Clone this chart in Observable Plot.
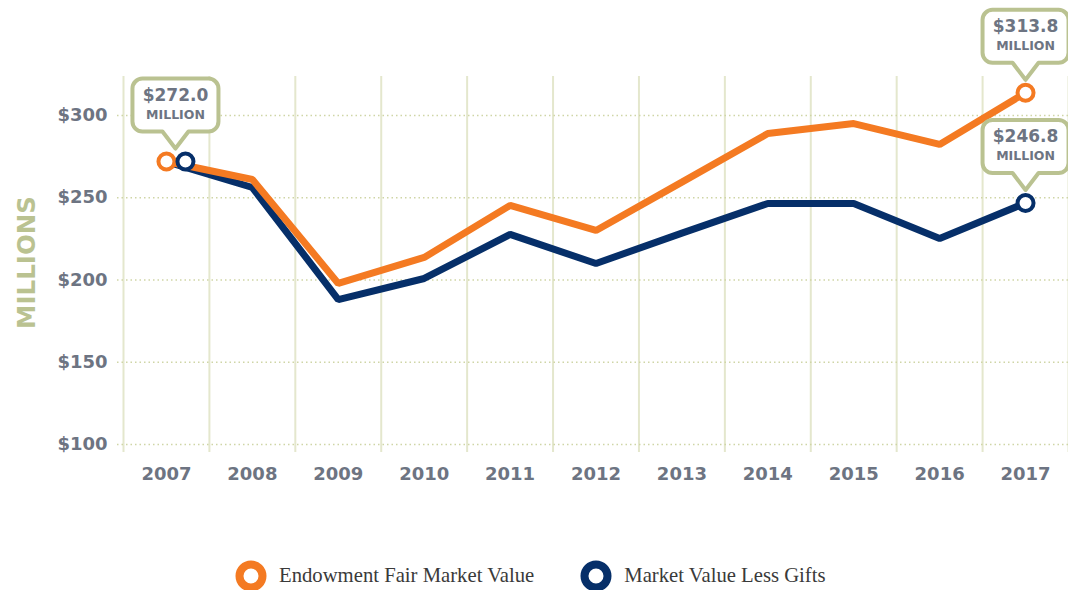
<!DOCTYPE html>
<html>
<head>
<meta charset="utf-8">
<script src="https://cdn.jsdelivr.net/npm/d3@7"></script>
<script src="https://cdn.jsdelivr.net/npm/@observablehq/plot@0.6"></script>
<style>
  html, body { margin: 0; padding: 0; background: #fff; }
  #chart { width: 1068px; }
  .legend { display: flex; align-items: center; padding-top: 11px; padding-left: 235px; height: 40px; box-sizing: border-box;
            font-family: "Liberation Serif", serif; font-size: 20.7px; color: #3a3a3a; }
  .legend .item { display: flex; align-items: center; margin-right: 46px; }
  .legend svg { margin-right: 12px; }
</style>
</head>
<body>
<div id="chart"></div>
<script>
// ---- data ----
const years = [2007, 2008, 2009, 2010, 2011, 2012, 2013, 2014, 2015, 2016, 2017];
const fairMarketValue = [272.0, 261.1, 197.9, 213.7, 245.3, 230.1, 259.5, 289.0, 295.1, 282.4, 313.8];
const lessGifts = [272.0, 256.2, 188.1, 200.9, 227.7, 210.0, 228.5, 246.5, 246.5, 225.2, 246.8];
const yTicks = [100, 150, 200, 250, 300];
const seriesNames = ["Endowment Fair Market Value", "Market Value Less Gifts"];
const calloutYears = [2007, 2017, 2017];
const calloutValues = [272.0, 313.8, 246.8];
const calloutUnit = "MILLION";
const yAxisTitle = "MILLIONS";

// ---- styles ----
const ORANGE = "#f47a22";
const NAVY = "#062f69";
const OLIVE = "#bac291";
const GREY = "#6d7482";
const FONT = "DejaVu Sans";

const orange = years.map((year, i) => ({year, value: fairMarketValue[i]}));
const navy = years.map((year, i) => ({year, value: lessGifts[i]}));
const callouts = calloutYears.map((year, i) => ({year, value: calloutValues[i], label: "$" + calloutValues[i].toFixed(1), shift: i === 0 ? 9 : 0}));
const bandEdges = years.map(y => y - 0.5).concat([years[years.length - 1] + 0.5]);

// callout bubble symbol: origin at the pointer tip
const calloutSymbol = {
  draw(ctx) {
    const hw = 43, top = -70, bot = -17, r = 10, pw = 13;
    ctx.moveTo(0, 0);
    ctx.lineTo(-pw, bot);
    ctx.lineTo(-hw + r, bot);
    ctx.arcTo(-hw, bot, -hw, bot - r, r);
    ctx.lineTo(-hw, top + r);
    ctx.arcTo(-hw, top, -hw + r, top, r);
    ctx.lineTo(hw - r, top);
    ctx.arcTo(hw, top, hw, top + r, r);
    ctx.lineTo(hw, bot - r);
    ctx.arcTo(hw, bot, hw - r, bot, r);
    ctx.lineTo(pw, bot);
    ctx.closePath();
  }
};

const chart = Plot.plot({
  width: 1068,
  height: 550,
  marginLeft: 123,
  marginRight: 0,
  marginTop: 76,
  marginBottom: 98,
  x: {domain: [2006.5, 2017.5]},
  y: {domain: [95.1, 323.7]},
  style: {fontFamily: FONT, background: "#fff", overflow: "visible"},
  marks: [
    Plot.ruleX(bandEdges, {stroke: "#e4e7cd", strokeWidth: 2}),
    Plot.ruleY(yTicks, {stroke: "#cfd5a6", strokeWidth: 1.5, strokeDasharray: "1.5,3", insetLeft: -6}),
    Plot.axisX({ticks: years, tickFormat: d => String(d), tickSize: 0, tickPadding: 15, fontSize: 18, fontWeight: "bold", color: GREY, label: null}),
    Plot.axisY({ticks: yTicks, tickFormat: d => "$" + d, tickSize: 0, tickPadding: 16, fontSize: 18, fontWeight: "bold", color: GREY, label: null}),
    Plot.text([yAxisTitle], {frameAnchor: "left", textAnchor: "middle", dx: -96, dy: -2, rotate: -90, fontSize: 24.5, fontWeight: "bold", fill: OLIVE}),
    Plot.line(navy, {x: "year", y: "value", stroke: NAVY, strokeWidth: 7, strokeLinejoin: "miter", strokeLinecap: "butt"}),
    Plot.line(orange, {x: "year", y: "value", stroke: ORANGE, strokeWidth: 7, strokeLinejoin: "miter", strokeLinecap: "butt"}),
    Plot.dot([orange[0], orange[orange.length - 1]], {x: "year", y: "value", r: 8, fill: "#fff", stroke: ORANGE, strokeWidth: 4}),
    Plot.dot([navy[0]], {x: "year", y: "value", r: 8, fill: "#fff", stroke: NAVY, strokeWidth: 4, dx: 19}),
    Plot.dot([navy[navy.length - 1]], {x: "year", y: "value", r: 8, fill: "#fff", stroke: NAVY, strokeWidth: 4}),
    Plot.dot(callouts.filter(d => d.shift), {x: "year", y: "value", symbol: calloutSymbol, r: 5, fill: "#fff", stroke: OLIVE, strokeWidth: 4, strokeLinejoin: "round", dy: -13, dx: 9}),
    Plot.dot(callouts.filter(d => !d.shift), {x: "year", y: "value", symbol: calloutSymbol, r: 5, fill: "#fff", stroke: OLIVE, strokeWidth: 4, strokeLinejoin: "round", dy: -13}),
    Plot.text(callouts.filter(d => d.shift), {x: "year", y: "value", text: "label", dy: -66, dx: 9, fontSize: 17, fontWeight: "bold", fill: GREY}),
    Plot.text(callouts.filter(d => d.shift), {x: "year", y: "value", text: () => calloutUnit, dy: -47, dx: 9, fontSize: 12.5, fontWeight: "bold", fill: GREY}),
    Plot.text(callouts.filter(d => !d.shift), {x: "year", y: "value", text: "label", dy: -66, fontSize: 17, fontWeight: "bold", fill: GREY}),
    Plot.text(callouts.filter(d => !d.shift), {x: "year", y: "value", text: () => calloutUnit, dy: -47, fontSize: 12.5, fontWeight: "bold", fill: GREY})
  ]
});
document.getElementById("chart").appendChild(chart);

// legend
const legend = document.createElement("div");
legend.className = "legend";
[[seriesNames[0], ORANGE], [seriesNames[1], NAVY]].forEach(([name, color]) => {
  const item = document.createElement("div");
  item.className = "item";
  item.innerHTML = `<svg width="32" height="32"><circle cx="16" cy="16" r="11.5" fill="#fff" stroke="${color}" stroke-width="8"/></svg><span>${name}</span>`;
  legend.appendChild(item);
});
document.body.appendChild(legend);
</script>
</body>
</html>
